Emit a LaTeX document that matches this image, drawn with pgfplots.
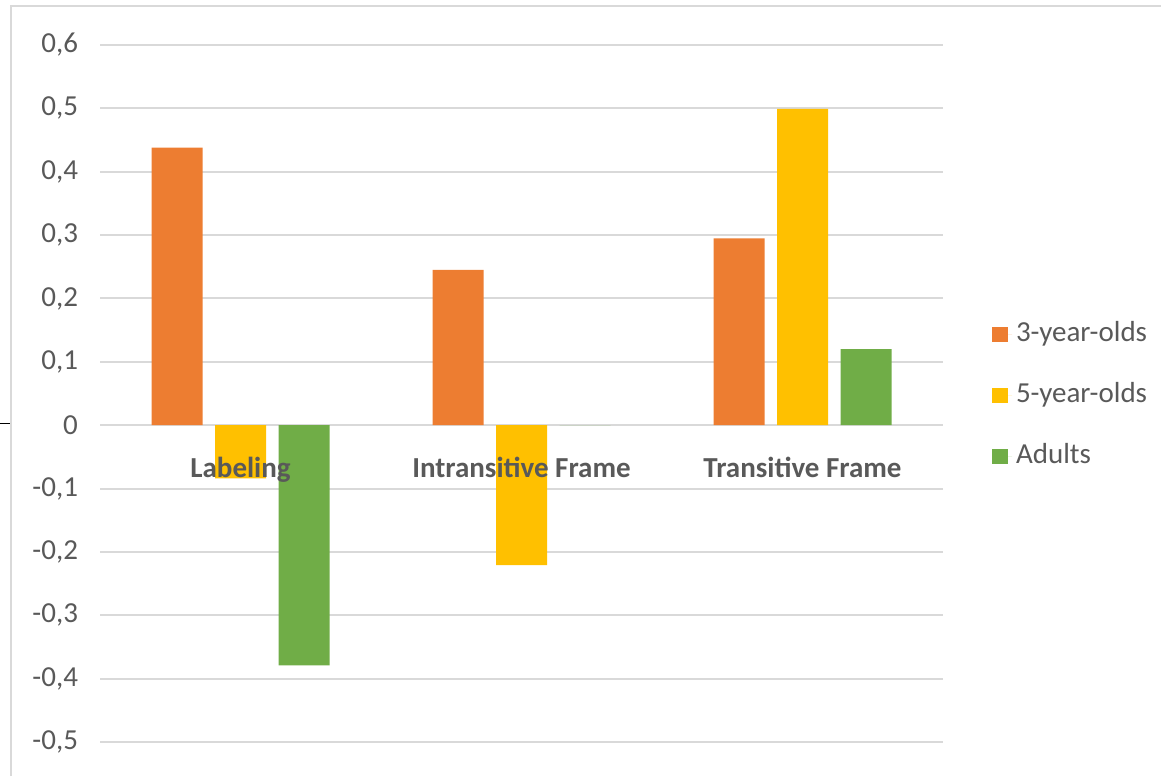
\documentclass[border=0pt]{standalone}
\usepackage{pgfplots}
\pgfplotsset{compat=1.18}
\usepackage{fontspec}
\setmainfont{Carlito}
\definecolor{cOrange}{HTML}{ED7D31}
\definecolor{cYellow}{HTML}{FFC000}
\definecolor{cGreen}{HTML}{70AD47}
\definecolor{cGrid}{HTML}{D9D9D9}
\definecolor{cText}{HTML}{595959}
\pgfplotsset{
  common/.style={
    at={(50pt,17pt)}, anchor=south west,
    scale only axis, width=421.5pt, height=348.5pt,
    xmin=-0.5, xmax=2.5, ymin=-0.5, ymax=0.6,
    axis line style={draw=none},
    major tick length=0pt,
  },
}
\begin{document}
\begin{tikzpicture}
\useasboundingbox (0,0) rectangle (580.5pt,388pt);
\draw[cGrid, line width=1pt] (5.5pt,0pt) -- (5.5pt,385pt) -- (580.5pt,385pt);
\draw[black, line width=0.5pt] (0pt,176pt) -- (5pt,176pt);
\begin{axis}[
  common,
  ybar=6.25pt, bar width=25.5pt,
  xtick=\empty,
  ytick={-0.5,-0.4,...,0.61},
  ymajorgrids, grid style={cGrid, line width=1pt},
  /pgf/number format/assume math mode=true,
  /pgf/number format/use comma,
  /pgf/number format/fixed,
  /pgf/number format/precision=1,
  yticklabel style={font=\fontsize{14.5}{17}\selectfont, color=cText, anchor=east, xshift=-7.5pt},
  legend style={draw=none, fill=none, at={(1,0.5)}, anchor=west, xshift=21.5pt, yshift=-1pt,
    font=\fontsize{14.5}{17}\selectfont, text=cText, row sep=13.5pt,
    nodes={text height=10pt, text depth=3pt, inner sep=2pt}},
  legend cell align=left,
  legend image code/.code={\fill[#1] (0pt,-3.9pt) rectangle (7.8pt,3.9pt);\path (0pt,0pt) -- (9.8pt,0pt);},
]
\addplot[fill=cOrange, draw=none] coordinates {(0,0.438) (1,0.245) (2,0.295)};
\addplot[fill=cYellow, draw=none] coordinates {(0,-0.084) (1,-0.221) (2,0.499)};
\addplot[fill=cGreen, draw=none] coordinates {(0,-0.379) (1,0) (2,0.120)};
\legend{3-year-olds, 5-year-olds, Adults}
\end{axis}
\begin{axis}[
  common,
  ytick=\empty,
  xtick={0,1,2},
  xticklabels={Labeling, Intransitive Frame, Transitive Frame},
  xticklabel style={font=\fontsize{14.5}{17}\selectfont\bfseries, color=cText, anchor=base, yshift=132pt},
]
\end{axis}
\end{tikzpicture}
\end{document}
